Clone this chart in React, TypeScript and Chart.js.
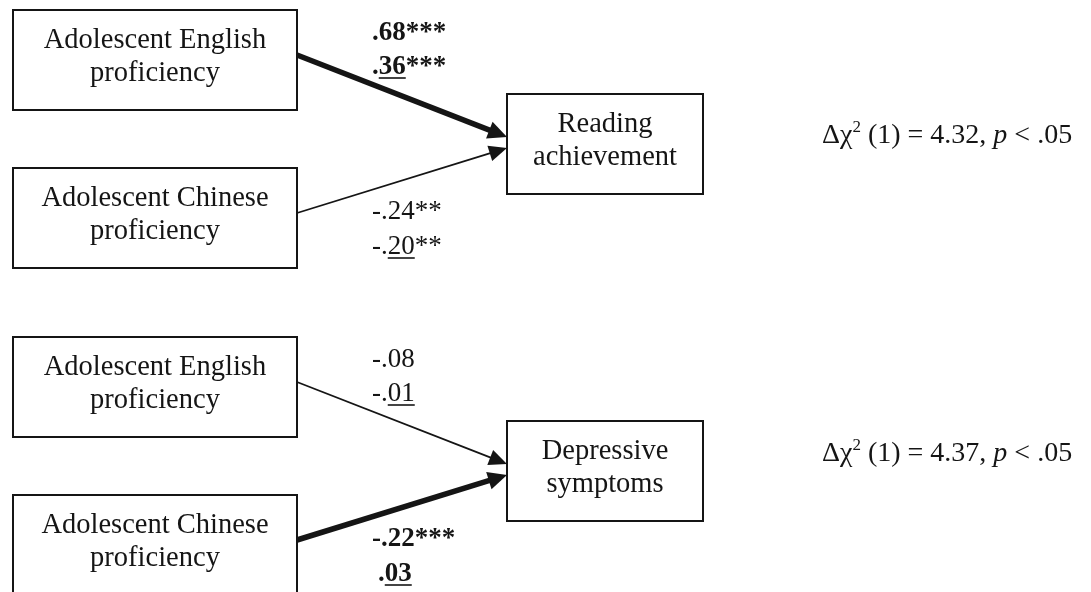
import React, { useEffect, useRef } from "react";
import { Chart, registerables } from "chart.js";

Chart.register(...registerables);

// ---- data ----
const predictorLines = [
  ["Adolescent English", "proficiency"],
  ["Adolescent Chinese", "proficiency"],
];
const outcomeLines = [
  ["Reading", "achievement"],
  ["Depressive", "symptoms"],
];
const coefStandardized = [
  [".68***", "-.24**"],
  ["-.08", "-.22***"],
];
const coefUnstandardized = [
  [".36***", "-.20**"],
  ["-.01", ".03"],
];
const groupDifferent = [
  [true, false],
  [false, true],
];
const chiValues = ["4.32", "4.37"];
const chiDf = ["1", "1"];
const pLevel = [".05", ".05"];

// ---- layout (diagram units, 1 unit = 1 px) ----
const W = 1091;
const H = 592;
const L = {
  panelY: [0, 327],
  predX: [13, 297],
  predY: [
    [10, 110],
    [168, 268],
  ],
  outX: [507, 703],
  outY: [94, 194],
  pathStartY: [55, 213],
  pathTipY: [137, 148],
  labelX: 372,
  labelDx: [
    [[0, 0], [0, 0]],
    [[0, 0], [0, 6]],
  ],
  labelBase: [
    [40, 74],
    [219, 254],
  ],
  textBase: [38, 71],
  chiX: 822,
  chiBase: [143, 461],
  head: [18, 8],
};

const INK = "#151515";
const SERIF = '"Liberation Serif", "Times New Roman", serif';
const SX = 1.0;

function drawStr(ctx: CanvasRenderingContext2D, s: string, x: number, y: number, font: string) {
  ctx.save();
  ctx.font = font;
  ctx.translate(x, y);
  ctx.scale(SX, 1);
  ctx.fillText(s, 0, 0);
  const w = ctx.measureText(s).width * SX;
  ctx.restore();
  return w;
}
function strW(ctx: CanvasRenderingContext2D, s: string, font: string) {
  ctx.save();
  ctx.font = font;
  const w = ctx.measureText(s).width * SX;
  ctx.restore();
  return w;
}

function tipBase(p: number, i: number) {
  const x0 = L.predX[1];
  const y0 = L.panelY[p] + L.pathStartY[i];
  const x1 = L.outX[0];
  const y1 = L.panelY[p] + L.pathTipY[i];
  const dx = x1 - x0;
  const dy = y1 - y0;
  const len = Math.hypot(dx, dy);
  const ux = dx / len;
  const uy = dy / len;
  return { x0, y0, x1, y1, ux, uy };
}

const diagramPlugin = {
  id: "diagram",
  afterDraw(chart: any) {
    const ctx: CanvasRenderingContext2D = chart.ctx;
    const xs = chart.scales.x;
    const ys = chart.scales.y;
    const px = (v: number) => xs.getPixelForValue(v);
    const py = (v: number) => ys.getPixelForValue(v);
    ctx.save();
    ctx.fillStyle = INK;
    ctx.strokeStyle = INK;
    ctx.textBaseline = "alphabetic";
    const boxFont = `28.5px ${SERIF}`;

    const drawBox = (x0: number, x1: number, y0: number, y1: number, lines: string[]) => {
      ctx.lineWidth = 2;
      ctx.strokeRect(px(x0), py(y0), px(x1) - px(x0), py(y1) - py(y0));
      const cx = (px(x0) + px(x1)) / 2;
      lines.forEach((t, k) => {
        const w = strW(ctx, t, boxFont);
        drawStr(ctx, t, cx - w / 2, py(y0 + L.textBase[k]), boxFont);
      });
    };

    for (let p = 0; p < 2; p++) {
      const off = L.panelY[p];
      for (let i = 0; i < 2; i++) {
        drawBox(L.predX[0], L.predX[1], off + L.predY[i][0], off + L.predY[i][1], predictorLines[i]);
      }
      drawBox(L.outX[0], L.outX[1], off + L.outY[0], off + L.outY[1], outcomeLines[p]);

      // arrowheads
      for (let i = 0; i < 2; i++) {
        const g = tipBase(p, i);
        const hl = L.head[0] + (groupDifferent[p][i] ? 1 : 0);
        const hw = L.head[1] + (groupDifferent[p][i] ? 1 : 0);
        const bx = g.x1 - g.ux * hl;
        const by = g.y1 - g.uy * hl;
        ctx.beginPath();
        ctx.moveTo(px(g.x1), py(g.y1));
        ctx.lineTo(px(bx - g.uy * hw), py(by + g.ux * hw));
        ctx.lineTo(px(bx + g.uy * hw), py(by - g.ux * hw));
        ctx.closePath();
        ctx.fill();
      }

      // coefficient labels
      for (let i = 0; i < 2; i++) {
        const bold = groupDifferent[p][i];
        const font = `${bold ? "bold " : ""}27px ${SERIF}`;
        const pair = [coefStandardized[p][i], coefUnstandardized[p][i]];
        pair.forEach((s, k) => {
          const m = s.match(/^(-?\.)(\d+)(\**)$/);
          if (!m) return;
          let x = px(L.labelX + L.labelDx[p][i][k]);
          const y = py(off + L.labelBase[i][k]);
          x += drawStr(ctx, m[1], x, y, font);
          const dw = drawStr(ctx, m[2], x, y, font);
          if (k === 1) {
            ctx.lineWidth = 1.6;
            ctx.beginPath();
            ctx.moveTo(x, y + 4);
            ctx.lineTo(x + dw, y + 4);
            ctx.stroke();
          }
          x += dw;
          drawStr(ctx, m[3], x, y, font);
        });
      }

      // chi-square text
      {
        const f = `28px ${SERIF}`;
        const fi = `italic 28px ${SERIF}`;
        const fs = `17px ${SERIF}`;
        let x = px(L.chiX);
        const y = py(L.chiBase[p]);
        x += drawStr(ctx, "Δχ", x, y, f);
        x += drawStr(ctx, "2", x, y - 11, fs);
        x += drawStr(ctx, ` (${chiDf[p]}) = ${chiValues[p]}, `, x, y, f);
        x += drawStr(ctx, "p", x, y, fi);
        drawStr(ctx, ` < ${pLevel[p]}`, x, y, f);
      }
    }
    ctx.restore();
  },
};

export default function App() {
  const ref = useRef<HTMLCanvasElement | null>(null);
  useEffect(() => {
    document.body.style.margin = "0";
    const datasets: any[] = [];
    for (let p = 0; p < 2; p++) {
      for (let i = 0; i < 2; i++) {
        const g = tipBase(p, i);
        const hl = L.head[0] - 4;
        datasets.push({
          label: `${predictorLines[i].join(" ")} → ${outcomeLines[p].join(" ")}`,
          data: [
            { x: g.x0, y: g.y0 },
            { x: g.x1 - g.ux * hl, y: g.y1 - g.uy * hl },
          ],
          showLine: true,
          borderColor: INK,
          borderWidth: groupDifferent[p][i] ? 5.5 : 1.8,
          pointRadius: 0,
          borderCapStyle: "butt",
          clip: false,
        });
      }
    }
    const chart = new Chart(ref.current!, {
      type: "scatter",
      data: { datasets },
      options: {
        animation: false,
        responsive: false,
        maintainAspectRatio: false,
        layout: { padding: 0 },
        plugins: { legend: { display: false }, tooltip: { enabled: false } },
        scales: {
          x: { type: "linear", min: 0, max: W, display: false },
          y: { type: "linear", min: 0, max: H, reverse: true, display: false },
        },
      },
      plugins: [diagramPlugin],
    });
    return () => chart.destroy();
  }, []);
  return (
    <div style={{ width: W, height: H, background: "#fff" }}>
      <canvas ref={ref} width={W} height={H} style={{ display: "block" }} />
    </div>
  );
}
